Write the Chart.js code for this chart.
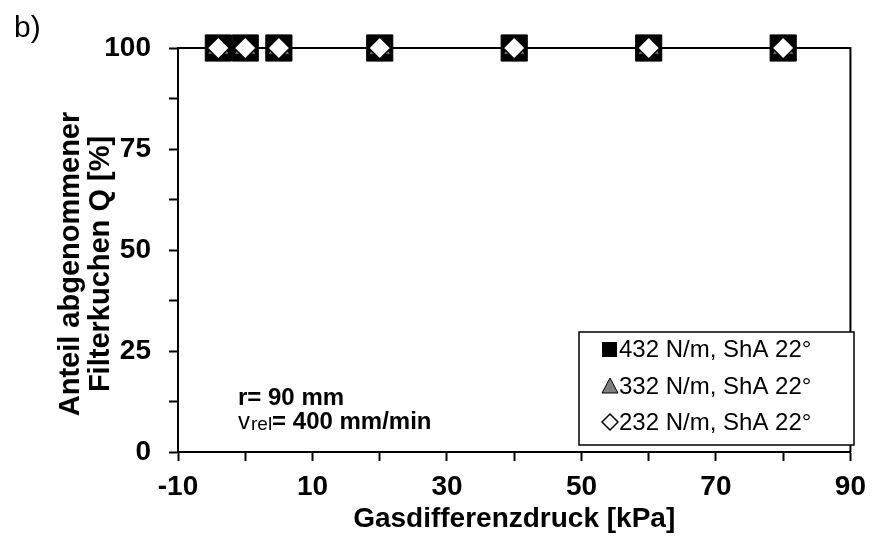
<!DOCTYPE html>
<html>
<head>
<meta charset="utf-8">
<script src="https://cdn.jsdelivr.net/npm/chart.js@4.4.1/dist/chart.umd.min.js"></script>
<style>
    html, body { margin: 0; padding: 0; background: #fff; }
    #wrap { width: 875px; height: 536px; }
</style>
</head>
<body>
<div id="wrap"><canvas id="myChart" width="875" height="536"></canvas></div>
<script>
// Data
const pressure = [-4, 0, 5, 20, 40, 60, 80];
const q432 = [100, 100, 100, 100, 100, 100, 100];
const q332 = [100, 100, 100, 100, 100, 100, 100];
const q232 = [100, 100, 100, 100, 100, 100, 100];
const seriesLabels = ['432 N/m, ShA 22°', '332 N/m, ShA 22°', '232 N/m, ShA 22°'];
const xLabelTicks = [-10, 10, 30, 50, 70, 90];
const yLabelTicks = [0, 25, 50, 75, 100];
const yTitle = ['Anteil abgenommener', 'Filterkuchen Q [%]'];
const xTitle = 'Gasdifferenzdruck [kPa]';

const FONT = 'Arial, "Liberation Sans", sans-serif';

function toPoints(ys) {
    return pressure.map((x, i) => ({ x: x, y: ys[i] }));
}

// extra drawing: frame, y title, legend box, notes
const extras = {
    id: 'extras',
    beforeDatasetsDraw(chart) {
        const { ctx, chartArea: a } = chart;
        ctx.save();
        ctx.strokeStyle = '#000';
        ctx.lineWidth = 2;
        ctx.beginPath();
        ctx.moveTo(a.left, a.top);
        ctx.lineTo(a.right, a.top);
        ctx.lineTo(a.right, a.bottom);
        ctx.stroke();
        ctx.restore();
    },
    afterDraw(chart) {
        const { ctx } = chart;
        ctx.save();
        ctx.fillStyle = '#000';

        // panel letter
        ctx.font = '30px ' + FONT;
        ctx.textAlign = 'left';
        ctx.textBaseline = 'alphabetic';
        ctx.fillText('b)', 14, 37);

        // y axis title, two lines
        ctx.font = 'bold 29px ' + FONT;
        ctx.textAlign = 'center';
        [79, 109].forEach((bx, i) => {
            ctx.save();
            ctx.translate(bx, 264);
            ctx.rotate(-Math.PI / 2);
            ctx.fillText(yTitle[i], 0, 0);
            ctx.restore();
        });

        // notes
        ctx.textAlign = 'left';
        ctx.font = 'bold 24px ' + FONT;
        ctx.fillText('r= 90 mm', 238, 405);
        ctx.font = '24px ' + FONT;
        ctx.fillText('v', 238, 429);
        let w = ctx.measureText('v').width;
        ctx.font = '19px ' + FONT;
        ctx.fillText('rel', 238 + w + 1, 430);
        w += ctx.measureText('rel').width + 1;
        ctx.font = 'bold 24px ' + FONT;
        ctx.fillText('= 400 mm/min', 238 + w, 429);

        // legend
        ctx.fillStyle = '#fff';
        ctx.fillRect(579, 332, 275, 113);
        ctx.strokeStyle = '#000';
        ctx.lineWidth = 1.5;
        ctx.strokeRect(579, 332, 275, 113);

        const rows = [349, 386, 422];
        ctx.fillStyle = '#000';
        ctx.fillRect(602, rows[0] - 7, 15, 15);

        ctx.beginPath();
        ctx.moveTo(610, rows[1] - 8);
        ctx.lineTo(618, rows[1] + 7);
        ctx.lineTo(602, rows[1] + 7);
        ctx.closePath();
        ctx.fillStyle = '#808080';
        ctx.fill();
        ctx.lineWidth = 1;
        ctx.stroke();

        ctx.beginPath();
        ctx.moveTo(610, rows[2] - 8);
        ctx.lineTo(618, rows[2]);
        ctx.lineTo(610, rows[2] + 8);
        ctx.lineTo(602, rows[2]);
        ctx.closePath();
        ctx.fillStyle = '#fff';
        ctx.fill();
        ctx.lineWidth = 1.5;
        ctx.stroke();

        ctx.fillStyle = '#000';
        ctx.font = '24px ' + FONT;
        ctx.textBaseline = 'middle';
        seriesLabels.forEach((t, i) => ctx.fillText(t, 619, rows[i] + 1));

        ctx.restore();
    }
};

const canvas = document.getElementById('myChart');
const myChart = new Chart(canvas, {
    type: 'scatter',
    data: {
        datasets: [{
            label: seriesLabels[0],
            data: toPoints(q432),
            pointStyle: 'rect',
            pointRadius: 18.5,
            pointHoverRadius: 18.5,
            backgroundColor: '#000',
            borderColor: '#000',
            borderWidth: 1,
            order: 3,
            clip: false
        }, {
            label: seriesLabels[1],
            data: toPoints(q332),
            pointStyle: 'triangle',
            pointRadius: 12.5,
            pointHoverRadius: 12.5,
            backgroundColor: '#808080',
            borderColor: '#000',
            borderWidth: 1,
            order: 2,
            clip: false
        }, {
            label: seriesLabels[2],
            data: toPoints(q232),
            pointStyle: 'rectRot',
            pointRadius: 11,
            pointHoverRadius: 11,
            backgroundColor: '#fff',
            borderColor: '#000',
            borderWidth: 1.5,
            order: 1,
            clip: false
        }]
    },
    options: {
        responsive: false,
        animation: false,
        devicePixelRatio: 1,
        layout: { padding: { left: 0, right: 20, top: 48, bottom: 0 } },
        plugins: {
            legend: { display: false },
            tooltip: { enabled: false }
        },
        scales: {
            x: {
                type: 'linear',
                min: -10,
                max: 90,
                afterFit: (s) => { s.height = 84; },
                ticks: {
                    stepSize: 10,
                    autoSkip: false,
                    maxRotation: 0,
                    padding: 9,
                    color: '#000',
                    font: { family: FONT, size: 28, weight: 'bold' },
                    callback: (v) => xLabelTicks.includes(v) ? String(v) : ''
                },
                grid: {
                    drawOnChartArea: false,
                    drawTicks: true,
                    tickLength: 9,
                    tickWidth: 2,
                    tickColor: '#000'
                },
                border: { color: '#000', width: 2 },
                title: {
                    display: true,
                    text: xTitle,
                    color: '#000',
                    font: { family: FONT, size: 28, weight: 'bold' },
                    padding: { top: 0, bottom: 0 }
                }
            },
            y: {
                min: 0,
                max: 100,
                afterFit: (s) => { s.width = 178; },
                ticks: {
                    stepSize: 12.5,
                    autoSkip: false,
                    padding: 18,
                    color: '#000',
                    font: { family: FONT, size: 28, weight: 'bold' },
                    callback: (v) => yLabelTicks.includes(v) ? String(v) : ''
                },
                grid: {
                    drawOnChartArea: false,
                    drawTicks: true,
                    tickLength: 9,
                    tickWidth: 2,
                    tickColor: '#000'
                },
                border: { color: '#000', width: 2 }
            }
        }
    },
    plugins: [extras]
});
</script>
</body>
</html>
